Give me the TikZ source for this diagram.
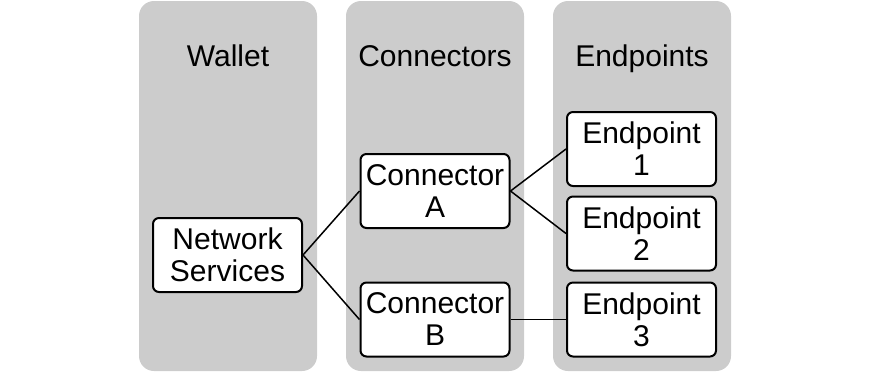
\documentclass[tikz,border=0pt]{standalone}
\usepackage{fontspec}
\setmainfont{Liberation Sans}
\usepackage{tikz}
\usetikzlibrary{calc}
\definecolor{ink}{HTML}{000000}
\definecolor{lane}{HTML}{CCCCCC}

\begin{document}
\begin{tikzpicture}[x=0.5pt,y=-0.5pt,
  lanebox/.style={fill=lane,rounded corners=7.5pt},
  unit/.style={draw=ink,fill=white,line width=1pt,rounded corners=3pt,
    minimum width=74.5pt,minimum height=37pt,align=center,inner sep=0pt,
    font=\fontsize{15}{16}\selectfont},
  title/.style={anchor=base,font=\fontsize{15}{16}\selectfont},
  link/.style={ink,line width=0.75pt}]
  \useasboundingbox (0,0) rectangle (870,372);
  % lanes
  \fill[lanebox] (139,1) rectangle (317,371);
  \fill[lanebox] (346,1) rectangle (524,371);
  \fill[lanebox] (553,1) rectangle (731,371);
  \node[title] (wallet) at (228,66) {Wallet};
  \node[title] (conns) at (435,66) {Connectors};
  \node[title] (ends) at (642,66) {Endpoints};
  % boxes
  \node[unit] (ns) at (227.5,255) {Network\\Services};
  \node[unit] (ca) at (435,191) {Connector\\A};
  \node[unit] (cb) at (435,319.5) {Connector\\B};
  \node[unit] (e1) at (641.5,149) {Endpoint\\1};
  \node[unit] (e2) at (641.5,233.5) {Endpoint\\2};
  \node[unit] (e3) at (641.5,319.5) {Endpoint\\3};
  % links
  \draw[link] (ns.east)--(ca.west);
  \draw[link] (ns.east)--(cb.west);
  \draw[link] (ca.east)--(e1.west);
  \draw[link] (ca.east)--(e2.west);
  \draw[link] (cb.east)--(e3.west);
\end{tikzpicture}
\end{document}
